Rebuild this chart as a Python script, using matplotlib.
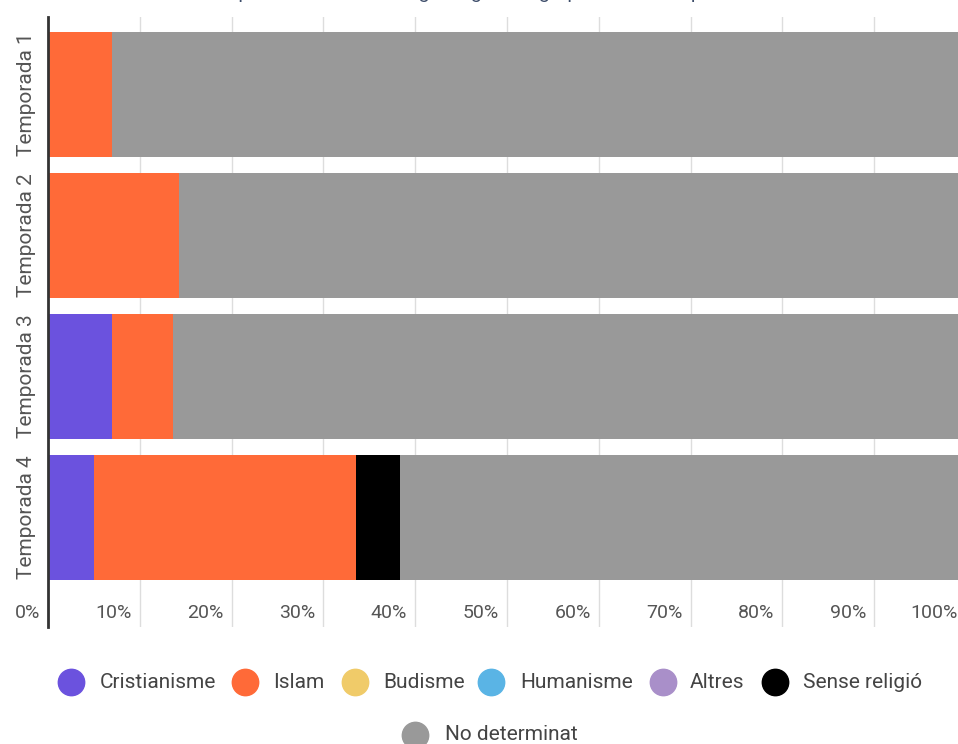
"""Religions per temporada (barres apilades 100%)"""
import matplotlib
matplotlib.use("Agg")
import matplotlib.pyplot as plt
import matplotlib.transforms as mtransforms
from matplotlib.lines import Line2D

plt.rcParams["font.family"] = ["Roboto", "DejaVu Sans"]

# ── Data ────────────────────────────────────────────────────────────────────
seasons = ["Temporada 1", "Temporada 2", "Temporada 3", "Temporada 4"]
groups = ["Cristianisme", "Islam", "Budisme", "Humanisme", "Altres",
          "Sense religió", "No determinat"]
colors = ["#6b52de", "#ff6a38", "#f0cb69", "#5ab4e5", "#a98fc9",
          "#000000", "#999999"]

cristianisme = [0.0, 0.0, 7.0, 5.0]
islam        = [7.0, 14.3, 6.6, 28.6]
budisme      = [0.0, 0.0, 0.0, 0.0]
humanisme    = [0.0, 0.0, 0.0, 0.0]
altres       = [0.0, 0.0, 0.0, 0.0]
sense        = [0.0, 0.0, 0.0, 4.7]
no_det       = [100 - sum(v) for v in zip(cristianisme, islam, budisme,
                                           humanisme, altres, sense)]
series = [cristianisme, islam, budisme, humanisme, altres, sense, no_det]

xticks = [0, 10, 20, 30, 40, 50, 60, 70, 80, 90, 100]
xlabels = [f"{t}%" for t in xticks]

# ── Figure ──────────────────────────────────────────────────────────────────
W, H = 958, 744
fig = plt.figure(figsize=(W / 100, H / 100), dpi=100)
ax = fig.add_axes([48 / W, 1 - 627 / H, 918 / W, 610 / H])

ypos = list(range(len(seasons)))
left = [0.0] * len(seasons)
for name, vals, col in zip(groups, series, colors):
    ax.barh(ypos, vals, left=left, height=0.887, color=col, label=name,
            zorder=2, linewidth=0)
    left = [a + b for a, b in zip(left, vals)]

ax.set_xlim(0, 100)
ax.set_ylim(3.777, -0.55)
ax.set_xticks(xticks)
ax.set_xticklabels([])
ax.tick_params(axis="both", length=0)
ax.set_yticks([])
ax.grid(axis="x", color="#dddddd", lw=1, zorder=0)
for s in ["top", "right", "bottom"]:
    ax.spines[s].set_visible(False)
ax.spines["left"].set_color("#333333")
ax.spines["left"].set_linewidth(2)
ax.spines["left"].set_zorder(3)

# x tick labels sit inside the axes, right-aligned just left of each gridline
trans = mtransforms.blended_transform_factory(ax.transData, ax.transAxes)
trans = mtransforms.offset_copy(trans, fig=fig, x=-8, y=0, units="dots")
for t, lab in zip(xticks, xlabels):
    ax.text(t, 0.023, lab, transform=trans, ha="right", va="center",
            fontsize=14, color="#555555")

# season labels
for y, lab in zip(ypos, seasons):
    ax.text(-2.3, y, lab, rotation=90, ha="center", va="center",
            fontsize=15, color="#555555", clip_on=False)

# title, mostly cut off at the top edge
fig.text(0.505, 1 + 1.5 / H, "Representació de la religió segons el grup de cada temporada",
         ha="center", va="baseline", fontsize=14, color="#3d4d6a")

# legend, laid out in figure pixels
circle_x = [71, 245, 355, 491, 663, 775, 415]
label_x  = [100, 273, 383, 520, 690, 803, 445]
row_y    = [682, 682, 682, 682, 682, 682, 735]
for cx, tx, ry, name, col in zip(circle_x, label_x, row_y, groups, colors):
    fig.add_artist(Line2D([cx / W], [1 - ry / H], transform=fig.transFigure,
                          ls="none", marker="o", markersize=19,
                          markerfacecolor=col, markeredgecolor=col))
    fig.text(tx / W, 1 - ry / H, name, ha="left", va="center",
             fontsize=15, color="#444444")

fig.savefig("out.png", dpi=100)
print("Saved out.png")
